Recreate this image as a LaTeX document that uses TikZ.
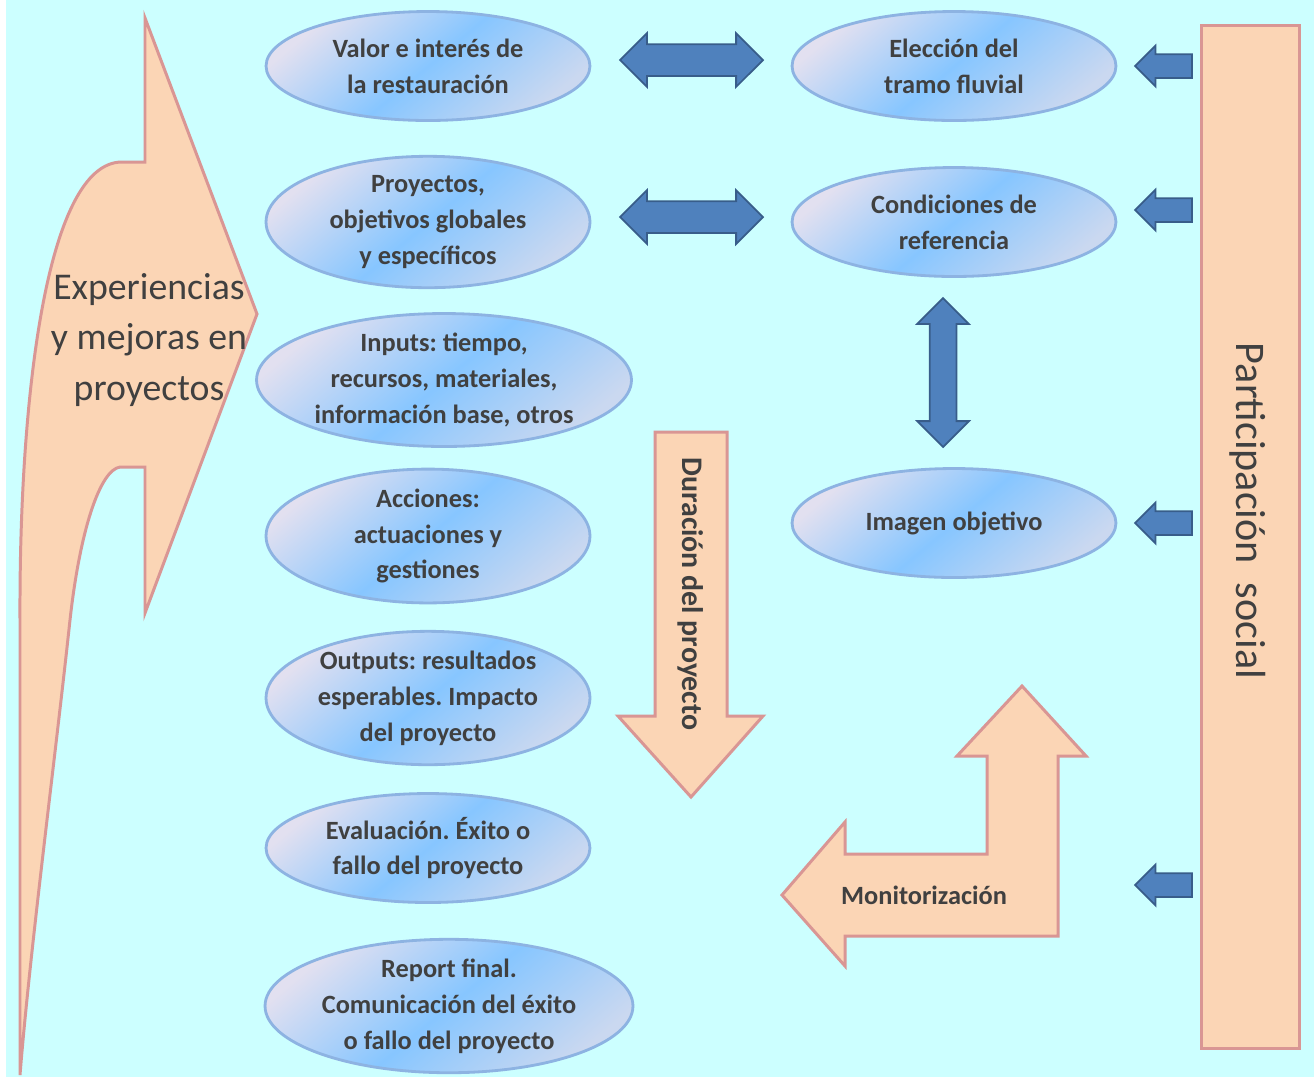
\documentclass[tikz,border=0pt]{standalone}
\usepackage{fontspec}
\setmainfont{Carlito}
\usepackage{tikz}
\usetikzlibrary{shapes.geometric, shapes.arrows, calc}
\frenchspacing

\definecolor{bgcyan}{RGB}{204,255,255}
\definecolor{peachfill}{RGB}{251,213,181}
\definecolor{peachline}{RGB}{217,150,148}
\definecolor{ellline}{RGB}{141,179,226}
\definecolor{elltop}{RGB}{226,224,240}
\definecolor{ellmid}{RGB}{135,198,255}
\definecolor{ellbot}{RGB}{202,216,240}
\definecolor{arrowfill}{RGB}{79,129,189}
\definecolor{arrowline}{RGB}{56,93,138}
\definecolor{txtgray}{RGB}{64,64,64}

\begin{document}
\begin{tikzpicture}[
    x=0.02cm, y=-0.02cm,
    stage/.style={
        ellipse,
        draw=ellline,
        line width=1.6pt,
        top color=elltop,
        bottom color=ellbot,
        middle color=ellmid,
        shading angle=40,
        minimum width=6.48cm,
        minimum height=2.18cm,
        inner sep=0pt,
        align=center,
        text=txtgray,
        font=\fontsize{15}{20.4}\selectfont\bfseries
    },
    wide/.style={
        stage,
        minimum width=7.5cm,
        minimum height=2.66cm
    },
    peach/.style={
        fill=peachfill,
        draw=peachline,
        line width=1.7pt,
        line join=miter
    },
    link/.style={
        double arrow,
        fill=arrowfill,
        draw=arrowline,
        line width=1pt,
        inner xsep=0pt,
        inner ysep=0.3cm,
        double arrow head extend=0.22cm,
        minimum height=2.86cm
    },
    push/.style={
        single arrow,
        shape border rotate=180,
        fill=arrowfill,
        draw=arrowline,
        line width=1pt,
        inner xsep=0pt,
        inner ysep=0.22cm,
        single arrow head extend=0.17cm,
        minimum height=1.14cm
    },
    bold/.style={
        text=txtgray,
        font=\fontsize{15}{20.4}\selectfont\bfseries
    },
    plain/.style={
        text=txtgray,
        align=center,
        font=\fontsize{21.5}{28.5}\selectfont
    }
]

% ============================================================
% Background
% ============================================================

\useasboundingbox (0,0) rectangle (1314,1080);
\fill[white] (0,0) rectangle (1314,1080);
\fill[bgcyan] (6,0) rectangle (1314,1077);

% ============================================================
% Left: curved arrow of experiences
% ============================================================

\draw[peach] (145,18) -- (257,314) -- (145,613) -- (145,467) -- (120,467)
    .. controls (100,470) and (80,530) .. (70,620)
    .. controls (55,760) and (30,950) .. (20,1075)
    -- (20,620)
    .. controls (19,400) and (46,162) .. (122,162)
    -- (145,162) -- cycle;
\node[plain] (exp) at (149,340) {Experiencias\\y mejoras en\\proyectos};

% ============================================================
% Middle: project stages
% ============================================================

\node[stage] (val)  at (428,66)  {Valor e interés de\\la restauración};
\node[stage] (proy) at (428,222) {Proyectos,\\objetivos globales\\y específicos};
\node[wide]  (inp)  at (444,380) {Inputs: tiempo,\\recursos, materiales,\\información base, otros};
\node[stage] (acc)  at (428,536) {Acciones:\\actuaciones y\\gestiones};
\node[stage, minimum height=2.4cm] (outp) at (428,698) {Outputs: resultados\\esperables. Impacto\\del proyecto};
\node[stage] (eval) at (428,848) {Evaluación. Éxito o\\fallo del proyecto};
\node[wide, minimum width=7.36cm] (rep) at (449,1006) {Report final.\\Comunicación del éxito\\o fallo del proyecto};

% duration of the project
\draw[peach] (655,432) -- (727,432) -- (727,716) -- (763,716)
    -- (691,797) -- (618,716) -- (655,716) -- cycle;
\node[bold, rotate=-90, font=\fontsize{17}{20}\selectfont\bfseries] (dur) at (691,594)
    {Duración del proyecto};

% ============================================================
% Right: river reach, reference, target image
% ============================================================

\node[stage] (elec) at (954,66)  {Elección del\\tramo fluvial};
\node[stage] (cond) at (954,222) {Condiciones de\\referencia};
\node[stage] (img)  at (954,523) {Imagen objetivo};

\node[link] (d1) at (691.5,60)  {};
\node[link] (d2) at (691.5,217) {};
\node[link, shape border rotate=90, inner xsep=0.25cm, inner ysep=0pt,
      double arrow head extend=0.25cm, minimum height=2.98cm] (d3) at (943,372.5) {};

% monitoring
\draw[peach] (782,895) -- (845,822) -- (845,854) -- (987,854) -- (987,756)
    -- (957,756) -- (1022,686) -- (1086,756) -- (1058,756) -- (1058,936)
    -- (845,936) -- (845,966) -- cycle;
\node[bold] (mon) at (924,895) {Monitorización};

% ============================================================
% Social participation
% ============================================================

\draw[peach] (1201,25) rectangle (1299,1048);
\node[plain, rotate=-90, font=\fontsize{24}{28}\selectfont] (soc) at (1248,511)
    {Participación\ \ social};

\foreach \i/\y in {1/66,2/210,3/523,4/885} {
    \node[push] (p\i) at (1169.5,\y) {};
}
\end{tikzpicture}
\end{document}
